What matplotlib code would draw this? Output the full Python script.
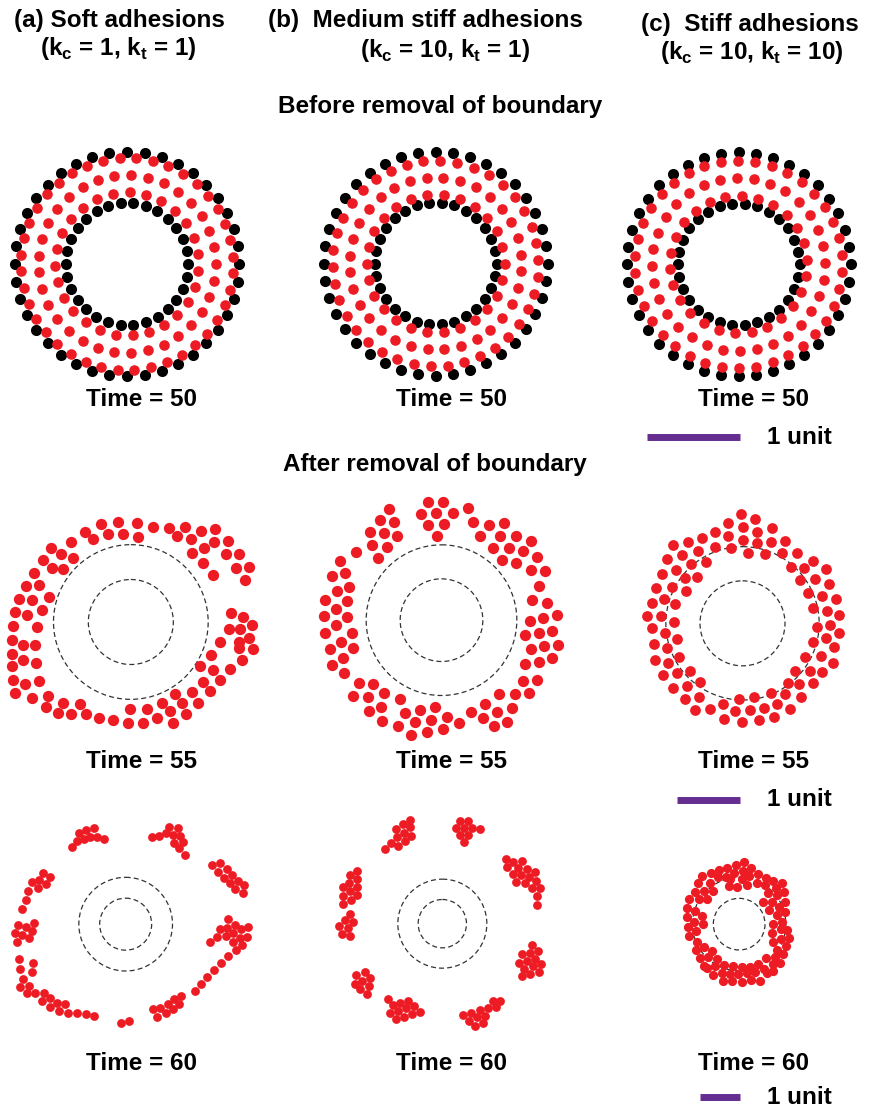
import numpy as np
import matplotlib.pyplot as plt
from matplotlib.patches import Circle

plt.rcParams['font.family'] = ['Liberation Sans', 'DejaVu Sans']
plt.rcParams['font.weight'] = 'bold'
plt.rcParams['mathtext.fontset'] = 'custom'
plt.rcParams['mathtext.rm'] = 'Liberation Sans:bold'
plt.rcParams['mathtext.bf'] = 'Liberation Sans:bold'

W, H = 869, 1111
RED = '#ED1C24'
PURPLE = '#662D91'

col_titles = ['(a) Soft adhesions', '(b)  Medium stiff adhesions', '(c)  Stiff adhesions']
kc_vals = ['1', '10', '10']
kt_vals = ['1', '1', '10']
times = [50, 55, 60]
row_titles = ['Before removal of boundary', 'After removal of boundary']

# boundary cells before removal: (radius, count, angle of first cell)
boundary_rings = [(336, 40, 90.0), (183, 30, 96.0)]
# tissue cells before removal, one list of rings per stiffness
tissue_rings = [
    [(318, 40, 4.0), (266, 33, 0.0), (215, 27, 8.0)],
    [(309, 38, 2.0), (258, 32, 6.0), (207, 26, 0.0)],
    [(311, 38, 5.0), (260, 32, 1.0), (206, 26, 4.0)],
]

# cell centres after removal (panel units, 3 units per pixel)
cells_55_a = [(693,340),(728,351),(757,374),(686,387),(720,388),(748,413),(716,425),(718,443),(760,447),(726,480),
    (661,427),(632,465),(600,498),(639,511),(690,507),(660,541),(610,546),(630,574),(576,576),(595,610),
    (524,583),(546,610),(558,643),(485,608),(510,633),(518,670),(440,626),(390,628),(470,653),(430,668),
    (384,669),(340,661),(296,653),(257,642),(240,612),(214,642),(190,610),(175,640),(144,587),(138,622),
    (96,595),(45,580),(40,540),(74,551),(116,542),(35,498),(107,488),(68,480),(35,461),(106,435),
    (68,436),(35,420),(112,381),(38,378),(82,346),(45,336),(125,330),(95,300),(58,296),(147,290),
    (118,255),(78,257),(103,218),(128,180),(155,203),(190,207),(153,143),(183,163),(220,173),(213,127),
    (255,95),(280,117),(303,72),(325,103),(355,65),(370,103),(410,70),(415,110),(458,80),(508,85),
    (530,108),(555,80),(572,118),(602,93),(577,158),(612,145),(643,125),(645,88),(610,190),(640,225),
    (685,123),(677,162),(718,162),(707,203),(748,202),(735,240)]

cells_55_b = [(385,37),(430,37),(363,72),(408,70),(458,70),(385,105),(432,103),(410,138),
    (268,57),(240,90),(282,97),(210,125),(252,130),(290,137),(215,165),(260,172),(233,203),(168,187),(120,212),
    (505,55),(518,97),(567,104),(613,100),(540,137),(600,137),(647,138),(693,152),(578,173),(626,175),
    (668,183),(710,201),(606,210),(648,218),(693,240),(735,243),(717,287),
    (96,258),(136,250),(148,291),(112,303),(76,330),(142,333),(108,356),(72,378),(142,382),(108,405),
    (74,428),(157,430),(124,456),(91,478),(160,475),(129,503),(95,525),(132,550),
    (697,330),(740,340),(690,392),(730,385),(770,375),(676,434),(716,430),(757,422),(693,478),(733,468),
    (773,464),(676,523),(716,517),(756,504),(668,574),(710,570),(686,610),(645,612),(597,612),
    (176,578),(218,583),(160,617),(205,622),(253,610),(207,664),(244,652),(245,693),(300,627),(315,668),
    (295,708),(332,735),(345,695),(360,660),(405,652),(393,690),(380,727),(428,718),(440,680),(477,700),
    (512,665),(556,643),(548,685),(583,707),(592,665),(620,695),(636,655)]

cells_55_c = [(424,41),(466,58),(385,68),(428,82),(470,96),(515,83),(346,96),(385,108),(430,120),(470,130),
    (512,125),(555,122),(306,113),(263,126),(218,135),(345,140),(393,145),(445,158),(496,162),(545,160),
    (590,160),(245,165),(295,153),(202,177),(272,193),(317,187),(228,210),(255,233),(292,232),(186,223),
    (168,265),(215,260),(258,272),(155,308),(192,298),(225,311),(140,348),(183,348),(222,366),(157,385),
    (195,400),(232,418),(162,432),(200,445),(165,480),(205,490),(238,472),(188,525),(230,520),(270,512),
    (218,565),(260,558),(300,545),(255,598),(297,590),(286,630),(330,628),(370,612),(418,597),(462,590),
    (512,578),(405,633),(450,630),(492,623),(532,612),(372,657),(426,667),(476,660),(522,652),(570,628),
    (556,583),(598,552),(563,548),(604,592),(640,550),(629,512),(665,515),(586,513),(616,470),(662,467),
    (700,488),(640,427),(677,415),(703,440),(650,380),(690,375),(718,398),(638,323),(680,333),(718,346),
    (625,280),(665,288),(708,298),(600,240),(646,237),(688,253),(572,200),(612,203),(640,183),(678,208)]

cells_60_a = [(217,112),(230,92),(253,88),(237,68),(258,60),(283,55),(270,80),(292,80),(313,88),
    (455,80),(478,78),(497,70),(507,50),(533,55),(518,75),(540,78),(550,95),(521,98),(538,114),(554,134),
    (637,166),(661,158),(653,185),(680,178),(672,204),(696,194),(690,220),(714,212),(706,238),(731,226),(728,250),
    (128,190),(150,202),(96,217),(118,211),(138,222),(113,235),(85,242),(77,270),(67,296),
    (54,345),(78,352),(102,340),(45,370),(67,375),(97,364),(88,383),(50,397),
    (684,328),(659,358),(681,355),(705,345),(723,358),(744,351),(652,381),(677,379),(700,370),(720,383),
    (741,380),(630,397),(700,397),(726,404),(707,421),(684,439),(662,459),(641,481),(622,501),(602,522),(584,543),
    (58,448),(98,458),(61,477),(97,485),(68,506),(60,532),(88,528),(80,550),(106,549),(133,548),
    (126,572),(150,565),(172,578),(196,583),(150,590),(176,602),(205,610),(232,608),(258,612),(283,617),
    (544,557),(521,568),(538,582),(503,581),(480,593),(460,598),(520,597),(497,610),(472,620),
    (362,640),(387,633)]

cells_60_b = [(331,30),(309,43),(289,58),(331,52),(312,68),(292,80),(334,78),(273,98),(315,93),(256,116),(295,108),
    (480,32),(505,32),(468,53),(493,53),(517,55),(541,58),(480,75),(505,75),(491,97),
    (617,147),(640,155),(666,153),(622,170),(655,175),(681,178),(638,193),(662,196),(688,200),(706,186),
    (649,216),(674,219),(708,213),(696,235),(720,235),(711,259),(712,285),
    (172,182),(149,195),(172,206),(147,219),(170,231),(128,232),(150,243),(172,255),(130,257),(152,270),(130,283),
    (150,311),(134,331),(160,335),(118,349),(144,353),(126,372),(150,377),
    (697,406),(690,430),(714,423),(665,433),(706,448),(682,452),(657,458),(724,463),(698,469),(673,477),
    (716,487),(691,492),(666,497),
    (169,496),(194,487),(186,512),(211,505),(164,521),(206,528),(181,537),(201,552),
    (265,567),(299,578),(323,572),(278,585),(343,588),(317,595),(295,604),(271,610),(359,606),(335,613),
    (311,622),(288,628),
    (578,572),(601,572),(588,592),(563,595),(539,600),(514,608),(488,616),(556,617),(531,622),(507,632),
    (549,638),(524,649)]

cells_60_c = [(433,66),(408,75),(382,85),(452,83),(358,90),(428,93),(332,100),(403,100),(475,103),(307,108),
    (355,112),(378,112),(425,116),(448,108),(497,113),(520,122),(545,130),(293,130),(330,128),(390,118),
    (412,140),(388,138),(440,135),(470,130),(495,135),(528,145),(552,155),(285,155),(312,152),(338,152),
    (505,160),(530,165),(555,185),(268,177),(296,178),(322,177),(490,185),(515,187),(537,202),(555,215),
    (260,205),(285,213),(306,227),(508,210),(530,225),(262,232),(283,245),(308,253),(520,252),(545,245),
    (560,270),(265,260),(288,273),(268,288),(290,305),(517,278),(542,268),(568,295),(520,305),(543,296),
    (530,330),(557,318),(550,343),(287,330),(312,320),(335,333),(300,355),(325,350),(352,356),(312,378),
    (345,378),(373,376),(400,378),(425,380),(450,380),(475,372),(498,355),(525,350),(320,385),(340,405),
    (365,398),(390,402),(415,403),(440,400),(466,395),(492,388),(520,372),(540,370),(518,392),(368,422),
    (397,423),(425,425),(452,421),(480,422),(500,398)]

fig = plt.figure(figsize=(W / 100, H / 100), dpi=100)
bg = fig.add_axes([0, 0, 1, 1])
bg.set_xlim(0, W)
bg.set_ylim(H, 0)
bg.axis('off')


def panel(x0, y0, w, h):
    ax = fig.add_axes([x0 / W, 1 - (y0 + h) / H, w / W, h / H])
    ax.set_xlim(0, 3 * w)
    ax.set_ylim(3 * h, 0)
    ax.axis('off')
    return ax


def ring(cx, cy, r, n, start):
    ang = np.deg2rad(start + 360.0 * np.arange(n) / n)
    return cx + r * np.cos(ang), cy - r * np.sin(ang)


def dashed(ax, cx, cy, radii):
    for r in radii:
        ax.add_patch(Circle((cx, cy), r, fill=False, ec='#333333', lw=0.9,
                            ls=(0, (4, 2.5)), zorder=1))


# before removal
before_boxes = [(0, 140, 290, 250), (300, 140, 290, 250), (600, 140, 269, 300)]
before_centres = [(381, 372), (406.5, 370.5), (415.5, 373)]
for box, (cx, cy), rings in zip(before_boxes, before_centres, tissue_rings):
    ax = panel(*box)
    for r, n, a0 in boundary_rings:
        x, y = ring(cx, cy, r, n, a0)
        ax.scatter(x, y, s=64, c='black', lw=0, zorder=2)
    for r, n, a0 in rings:
        x, y = ring(cx, cy, r, n, a0)
        ax.scatter(x, y, s=58, c=RED, lw=0, zorder=3)

# after removal, time 55 and 60
after_55 = [((0, 500, 290, 240), (392.5, 366), (232, 127.5), cells_55_a, 66),
            ((300, 490, 290, 250), (424.5, 390.5), (226, 124), cells_55_b, 66),
            ((600, 500, 269, 320), (427.5, 370), (230, 127.5), cells_55_c, 60)]
after_60 = [((0, 810, 290, 230), (377, 342.5), (140.5, 78), cells_60_a, 40),
            ((300, 810, 290, 230), (427, 341), (133.5, 72.5), cells_60_b, 40),
            ((600, 840, 269, 271), (417.5, 252.5), (140, 77.5), cells_60_c, 44)]
for box, (cx, cy), radii, cells, size in after_55 + after_60:
    ax = panel(*box)
    dashed(ax, cx, cy, radii)
    pts = np.array(cells)
    ax.scatter(pts[:, 0], pts[:, 1], s=size, c=RED, lw=0, zorder=2)

# headers
title_pos = [(119, 20), (425, 20), (750, 24)]
sub_pos = [(118, 49), (445, 51), (752, 52)]
for t, (x, y) in zip(col_titles, title_pos):
    bg.text(x, y, t, ha='center', va='center', fontsize=17.5, fontweight='bold')
for kc, kt, (x, y) in zip(kc_vals, kt_vals, sub_pos):
    s = r'(k$_\mathbf{c}$ = ' + kc + r', k$_\mathbf{t}$ = ' + kt + ')'
    bg.text(x, y, s, ha='center', va='center', fontsize=17.5, fontweight='bold')

bg.text(440, 107, row_titles[0], ha='center', va='center', fontsize=17.5, fontweight='bold')
bg.text(435, 465, row_titles[1], ha='center', va='center', fontsize=17.5, fontweight='bold')

time_y = [400, 762, 1064]
time_x = [141, 452, 754]
for t, y in zip(times, time_y):
    for x in time_x:
        bg.text(x, y, 'Time = %d' % t, ha='center', va='center', fontsize=17.5, fontweight='bold')

# scale bars, one unit per row
bar_left = [647, 677, 700]
bar_right = 740
bar_y = [437, 800, 1097]
for xl, y in zip(bar_left, bar_y):
    bg.plot([xl, bar_right], [y, y], color=PURPLE, lw=5, solid_capstyle='butt')
    bg.text(767, y, '1 unit', ha='left', va='center', fontsize=17.5, fontweight='bold')

fig.savefig('out.png', dpi=100)
